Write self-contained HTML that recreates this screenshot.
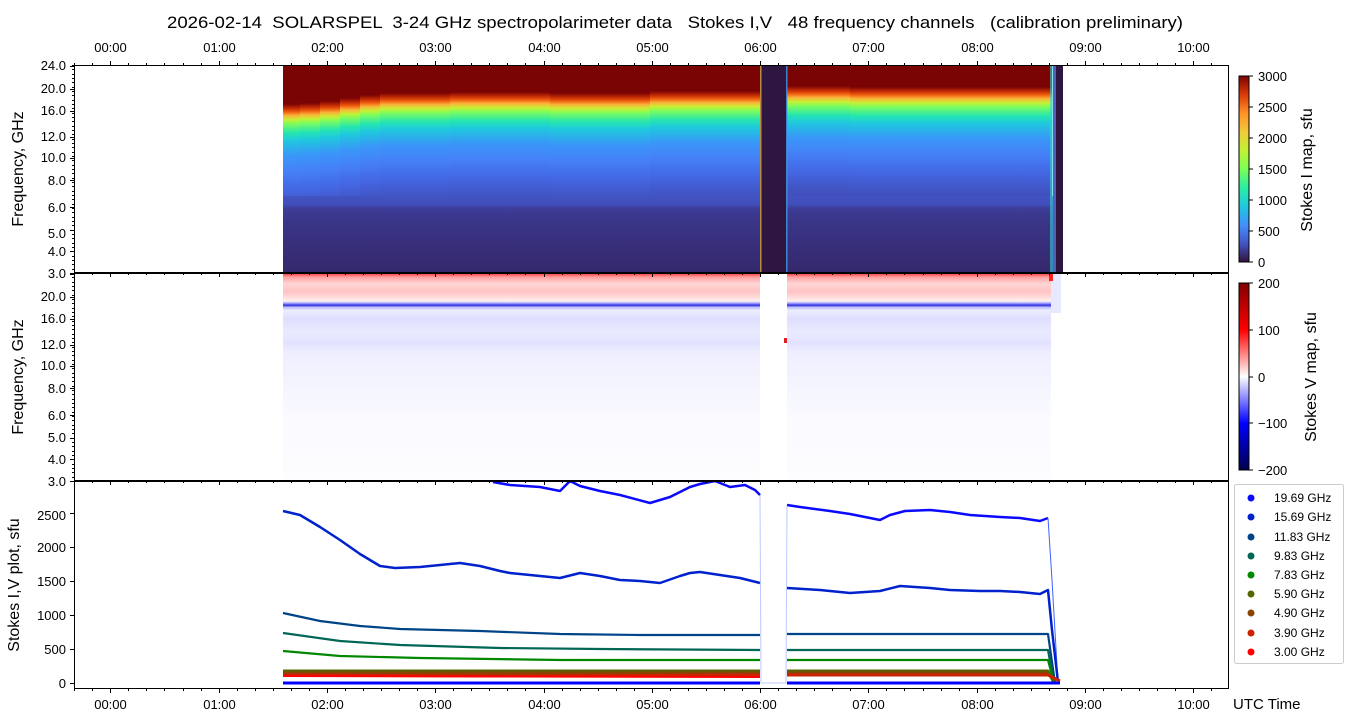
<!DOCTYPE html>
<html><head><meta charset="utf-8"><style>
html,body{margin:0;padding:0;background:#fff;}
svg{display:block;font-family:"Liberation Sans","DejaVu Sans",sans-serif;}
</style></head><body>
<svg id="s" width="1350" height="725" viewBox="0 0 1350 725" xmlns="http://www.w3.org/2000/svg">
<defs>
<linearGradient id="gI" gradientUnits="userSpaceOnUse" x1="0" y1="65" x2="0" y2="273">
<stop offset="0" stop-color="#7a0403"/>
<stop offset="0.135" stop-color="#7a0403"/>
<stop offset="0.155" stop-color="#c02a04"/>
<stop offset="0.173" stop-color="#f0600f"/>
<stop offset="0.19" stop-color="#fbb23a"/>
<stop offset="0.21" stop-color="#c8ef34"/>
<stop offset="0.23" stop-color="#7efc5c"/>
<stop offset="0.274" stop-color="#25e5b0"/>
<stop offset="0.31" stop-color="#1fc8de"/>
<stop offset="0.385" stop-color="#3a96f8"/>
<stop offset="0.457" stop-color="#4581f8"/>
<stop offset="0.55" stop-color="#4466e2"/>
<stop offset="0.65" stop-color="#4150bc"/>
<stop offset="0.67" stop-color="#4150bc"/>
<stop offset="0.69" stop-color="#3d3c98"/>
<stop offset="0.75" stop-color="#3a3588"/>
<stop offset="1" stop-color="#35286c"/>
</linearGradient>
<linearGradient id="gV" gradientUnits="userSpaceOnUse" x1="0" y1="273" x2="0" y2="481">
<stop offset="0" stop-color="#ff3030"/>
<stop offset="0.02" stop-color="#ffa0a0"/>
<stop offset="0.05" stop-color="#ffd4d4"/>
<stop offset="0.09" stop-color="#ffc4c4"/>
<stop offset="0.12" stop-color="#ffdede"/>
<stop offset="0.135" stop-color="#fff2f2"/>
<stop offset="0.145" stop-color="#a8a8ff"/>
<stop offset="0.155" stop-color="#3030e0"/>
<stop offset="0.165" stop-color="#c0c0ff"/>
<stop offset="0.18" stop-color="#eeeeff"/>
<stop offset="0.22" stop-color="#dedeff"/>
<stop offset="0.28" stop-color="#eaeaff"/>
<stop offset="0.34" stop-color="#e2e2ff"/>
<stop offset="0.38" stop-color="#eeeeff"/>
<stop offset="0.52" stop-color="#f4f4ff"/>
<stop offset="0.7" stop-color="#fafaff"/>
<stop offset="1" stop-color="#fdfcff"/>
</linearGradient>
<linearGradient id="cbI" x1="0" y1="1" x2="0" y2="0">
<stop offset="0" stop-color="#30123b"/>
<stop offset="0.1" stop-color="#4454c4"/>
<stop offset="0.2" stop-color="#4490fe"/>
<stop offset="0.3" stop-color="#1fc8de"/>
<stop offset="0.4" stop-color="#29efa2"/>
<stop offset="0.5" stop-color="#7dff56"/>
<stop offset="0.6" stop-color="#c1f334"/>
<stop offset="0.7" stop-color="#f1ca3a"/>
<stop offset="0.8" stop-color="#fe922a"/>
<stop offset="0.9" stop-color="#db3a07"/>
<stop offset="1" stop-color="#7a0403"/>
</linearGradient>
<linearGradient id="cbV" x1="0" y1="1" x2="0" y2="0">
<stop offset="0" stop-color="#00004c"/>
<stop offset="0.25" stop-color="#0000ff"/>
<stop offset="0.5" stop-color="#ffffff"/>
<stop offset="0.75" stop-color="#ff0000"/>
<stop offset="1" stop-color="#800000"/>
</linearGradient>
<clipPath id="c1"><rect x="74" y="65" width="1155" height="208"/></clipPath>
<clipPath id="c3"><rect x="74" y="481" width="1155" height="208"/></clipPath>
</defs>

<text x="675" y="28" font-size="17" text-anchor="middle" textLength="1016" lengthAdjust="spacingAndGlyphs" xml:space="preserve" style="white-space:pre">2026-02-14  SOLARSPEL  3-24 GHz spectropolarimeter data   Stokes I,V   48 frequency channels   (calibration preliminary)</text>

<!-- Panel 1 -->
<g clip-path="url(#c1)">
<g transform="translate(0,11)"><rect x="283" y="30" width="18" height="250" fill="url(#gI)"/></g>
<g transform="translate(0,10)"><rect x="300" y="30" width="21" height="250" fill="url(#gI)"/></g>
<g transform="translate(0,8)"><rect x="320" y="30" width="21" height="250" fill="url(#gI)"/></g>
<g transform="translate(0,5)"><rect x="340" y="30" width="21" height="250" fill="url(#gI)"/></g>
<g transform="translate(0,2)"><rect x="360" y="30" width="21" height="250" fill="url(#gI)"/></g>
<g transform="translate(0,0)"><rect x="380" y="30" width="71" height="250" fill="url(#gI)"/></g>
<g transform="translate(0,-1)"><rect x="450" y="30" width="101" height="250" fill="url(#gI)"/></g>
<g transform="translate(0,0)"><rect x="550" y="30" width="101" height="250" fill="url(#gI)"/></g>
<g transform="translate(0,-2)"><rect x="650" y="30" width="111" height="250" fill="url(#gI)"/></g>
<g transform="translate(0,-7)"><rect x="787" y="30" width="64" height="250" fill="url(#gI)"/></g>
<g transform="translate(0,-6)"><rect x="850" y="30" width="202" height="250" fill="url(#gI)"/></g>
<rect x="283" y="196" width="770" height="77" fill="url(#gI)"/>
<rect x="760" y="65" width="27" height="208" fill="#2e1640"/>
<rect x="760" y="65" width="1.5" height="208" fill="#f0c040" opacity="0.7"/>
<rect x="786" y="65" width="1.5" height="208" fill="#40a0f0" opacity="0.8"/>
<rect x="1050" y="65" width="3" height="208" fill="#30d0d0" opacity="0.6"/>
<rect x="1053" y="65" width="3" height="208" fill="#5060c0"/>
<rect x="1056" y="65" width="7" height="208" fill="#2e1640"/>
</g>
<!-- Panel 2 -->
<rect x="283" y="273" width="477" height="208" fill="url(#gV)"/>
<rect x="787" y="273" width="264" height="208" fill="url(#gV)"/>
<rect x="1051" y="273" width="10" height="40" fill="#e8e8ff"/>
<rect x="1049" y="273" width="4" height="8" fill="#ff2020"/>
<rect x="784" y="338" width="3" height="5" fill="#e02020"/>

<!-- Panel 3 lines -->
<g clip-path="url(#c3)" fill="none" stroke-linejoin="round">
<polyline stroke="#0a0aff" stroke-width="2.5" points="493,482 510,485 540,487 560,491 570,481 580,486 600,491 620,495 650,503 670,497 680,492 690,487 700,484 715,481 730,487 745,485 755,490 760,495"/>
<polyline stroke="#0a0aff" stroke-width="2.5" points="787,505 800,507 830,511 850,514 870,518 880,520 890,515 905,511 930,510 950,512 970,515 1000,517 1020,518 1040,521 1048,518"/>
<polyline stroke="#4060ff" stroke-width="1" points="1048,518 1052,580 1058,683"/>
<polyline stroke="#0022cc" stroke-width="2.5" points="283,511 300,515 320,527 340,540 360,554 380,566 395,568 420,567 440,565 460,563 480,566 500,571 510,573 540,576 560,578 580,573 600,576 620,580 640,581 660,583 680,576 690,573 700,572 720,575 740,578 760,583"/>
<polyline stroke="#0022cc" stroke-width="2.5" points="787,588 820,590 850,593 880,591 900,586 930,588 950,590 980,591 1000,591 1020,592 1040,594 1048,590 1052,630 1058,682"/>
<polyline stroke="#004488" stroke-width="2.2" points="283,613 320,621 360,626 400,629 480,631 560,634 640,635 760,635"/>
<polyline stroke="#004488" stroke-width="2.2" points="787,634 1048,634 1055,683"/>
<polyline stroke="#006655" stroke-width="2.2" points="283,633 340,641 400,645 500,648 600,649 760,650"/>
<polyline stroke="#006655" stroke-width="2.2" points="787,650 1048,650 1054,683"/>
<polyline stroke="#008800" stroke-width="2.2" points="283,651 340,656 420,658 560,660 760,660"/>
<polyline stroke="#008800" stroke-width="2.2" points="787,660 1048,660 1054,683"/>
<polyline stroke="#556600" stroke-width="3" points="283,671 760,671"/>
<polyline stroke="#556600" stroke-width="3" points="787,671 1048,671 1054,683"/>
<polyline stroke="#884400" stroke-width="3" points="283,673 760,673"/>
<polyline stroke="#884400" stroke-width="3" points="787,673 1048,673"/>
<polyline stroke="#cc2200" stroke-width="3" points="283,675 500,676 760,675"/>
<polyline stroke="#cc2200" stroke-width="3" points="787,675 1048,675 1060,681"/>
<polyline stroke="#ff0000" stroke-width="2" points="283,676 760,677"/>
<polyline stroke="#0000ff" stroke-width="3" points="283,683 760,683"/>
<polyline stroke="#0000ff" stroke-width="3" points="787,683 1060,683"/>
<polyline stroke="#8090ff" stroke-width="1" points="760,495 761,683 786,683 787,505" opacity="0.5"/>
</g>

<g fill="none" stroke="#000" stroke-width="1">
<rect x="74.5" y="65.5" width="1154" height="207"/>
<rect x="74.5" y="273.5" width="1154" height="207"/>
<rect x="74.5" y="481.5" width="1154" height="207"/>
</g>
<g id="ticks" stroke="#000" stroke-width="1"></g>

<g font-size="13" text-anchor="end">
<text x="66" y="70">24.0</text><text x="66" y="93">20.0</text><text x="66" y="115">16.0</text>
<text x="66" y="141">12.0</text><text x="66" y="162">10.0</text><text x="66" y="185">8.0</text>
<text x="66" y="212">6.0</text><text x="66" y="238">5.0</text><text x="66" y="256">4.0</text>
<text x="66" y="278">3.0</text>
<text x="66" y="301">20.0</text><text x="66" y="323">16.0</text>
<text x="66" y="349">12.0</text><text x="66" y="370">10.0</text><text x="66" y="393">8.0</text>
<text x="66" y="420">6.0</text><text x="66" y="442">5.0</text><text x="66" y="464">4.0</text>
<text x="66" y="486">3.0</text>
<text x="66" y="688">0</text><text x="66" y="654">500</text><text x="66" y="620">1000</text>
<text x="66" y="586">1500</text><text x="66" y="552">2000</text><text x="66" y="520">2500</text>
</g>
<g font-size="13" text-anchor="middle" id="xl"></g>

<text transform="translate(23,169) rotate(-90)" font-size="16" text-anchor="middle">Frequency, GHz</text>
<text transform="translate(23,377) rotate(-90)" font-size="16" text-anchor="middle">Frequency, GHz</text>
<text transform="translate(19,585) rotate(-90)" font-size="16" text-anchor="middle">Stokes I,V plot, sfu</text>
<text x="1233" y="709" font-size="15">UTC Time</text>

<rect x="1239" y="76" width="10" height="186" fill="url(#cbI)" stroke="#000" stroke-width="1"/>
<rect x="1239" y="283" width="10" height="187" fill="url(#cbV)" stroke="#000" stroke-width="1"/>
<g stroke="#000"><path d="M1249 76h4M1249 107h4M1249 138h4M1249 169h4M1249 200h4M1249 231h4M1249 262h4M1249 283h4M1249 330h4M1249 377h4M1249 423h4M1249 470h4"/></g>
<g font-size="13">
<text x="1258" y="81">3000</text><text x="1258" y="112">2500</text><text x="1258" y="143">2000</text>
<text x="1258" y="174">1500</text><text x="1258" y="205">1000</text><text x="1258" y="236">500</text><text x="1258" y="267">0</text>
<text x="1258" y="288">200</text><text x="1258" y="335">100</text><text x="1258" y="382">0</text>
<text x="1258" y="428">−100</text><text x="1258" y="475">−200</text>
</g>
<text transform="translate(1312,170) rotate(-90)" font-size="16" text-anchor="middle">Stokes I map, sfu</text>
<text transform="translate(1316,377) rotate(-90)" font-size="16" text-anchor="middle">Stokes V map, sfu</text>

<rect x="1234.5" y="484.5" width="109" height="179" rx="2" fill="#fff" stroke="#ccc"/>
<g font-size="12">
<circle cx="1251" cy="498" r="3.5" fill="#0a0aff"/><text x="1274" y="502">19.69 GHz</text>
<circle cx="1251" cy="517" r="3.5" fill="#0022cc"/><text x="1274" y="521">15.69 GHz</text>
<circle cx="1251" cy="537" r="3.5" fill="#004488"/><text x="1274" y="541">11.83 GHz</text>
<circle cx="1251" cy="556" r="3.5" fill="#006655"/><text x="1274" y="560">9.83 GHz</text>
<circle cx="1251" cy="575" r="3.5" fill="#008800"/><text x="1274" y="579">7.83 GHz</text>
<circle cx="1251" cy="594" r="3.5" fill="#556600"/><text x="1274" y="598">5.90 GHz</text>
<circle cx="1251" cy="613" r="3.5" fill="#884400"/><text x="1274" y="617">4.90 GHz</text>
<circle cx="1251" cy="633" r="3.5" fill="#cc2200"/><text x="1274" y="637">3.90 GHz</text>
<circle cx="1251" cy="652" r="3.5" fill="#ff0000"/><text x="1274" y="656">3.00 GHz</text>
</g>
</svg>
<script>
(function(){
var ns="http://www.w3.org/2000/svg",t=document.getElementById("ticks"),xl=document.getElementById("xl"),d="";
var x0=110.3,ph=108.3;
for(var m=-20;m<=620;m+=10){var x=x0+m/60*ph;if(x<74||x>1229)continue;x=Math.round(x)+0.5;var maj=(m%60==0),L=maj?4:2;
 d+="M"+x+" 65v-"+L;d+="M"+x+" 689v"+L;d+="M"+x+" 273v"+L;d+="M"+x+" 481v"+L;
 if(maj){var h=m/60,s=(h<10?"0":"")+h+":00";
  ["52","709"].forEach(function(yy){var e=document.createElementNS(ns,"text");e.setAttribute("x",x);e.setAttribute("y",yy);e.textContent=s;xl.appendChild(e);});}}
var fy=[65.7,89,110.7,137,158,180,207,230,250.7,273];
fy.forEach(function(y){d+="M74 "+(Math.round(y)+0.5)+"h-4";d+="M74 "+(Math.round(y)+208.5)+"h-4";});
for(var i=0;i<=48;i++){var y=65+i*208/48;d+="M74 "+(Math.round(y)+0.5)+"h-2";d+="M74 "+(Math.round(y)+208.5)+"h-2";}
[0,500,1000,1500,2000,2500].forEach(function(v){var y=683-0.068*v;d+="M74 "+(Math.round(y)+0.5)+"h-4";});
var p=document.createElementNS(ns,"path");p.setAttribute("d",d);p.setAttribute("fill","none");t.appendChild(p);
})();
</script>
</body></html>
